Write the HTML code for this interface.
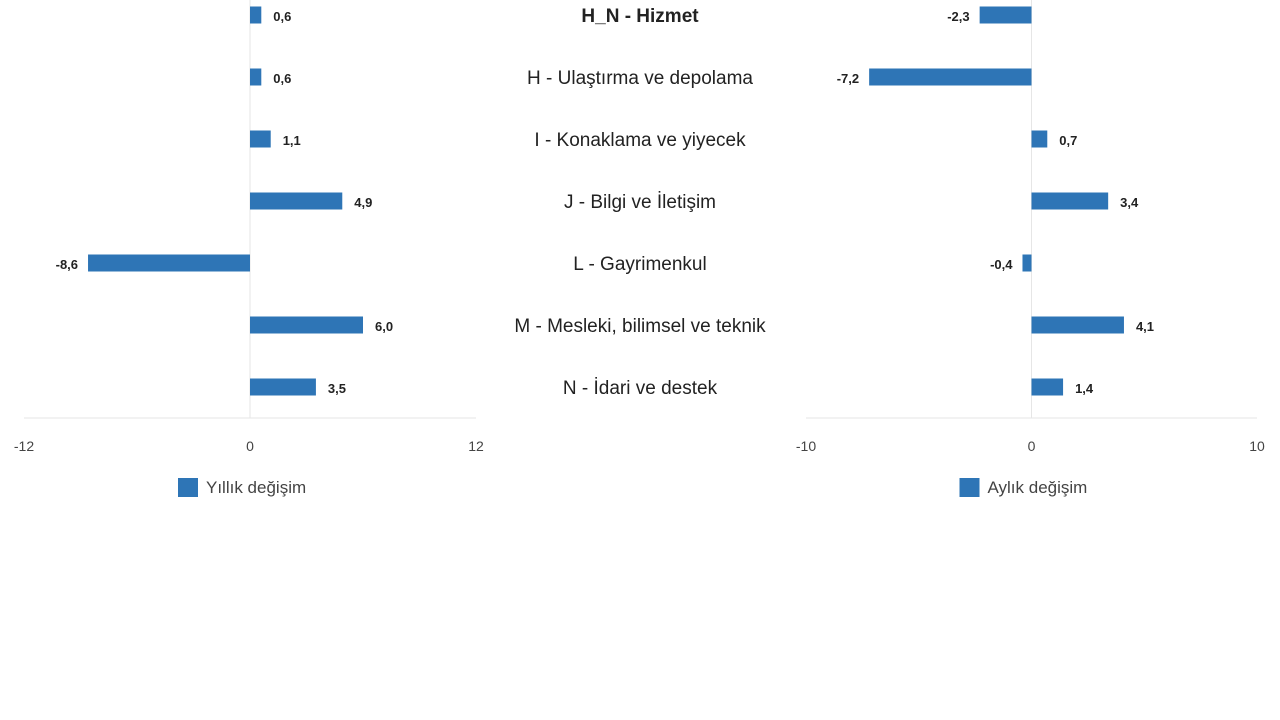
<!DOCTYPE html>
<html><head><meta charset="utf-8"><style>
html,body{margin:0;padding:0;background:#fff;}
svg{display:block;font-family:"Liberation Sans",sans-serif;}
</style></head><body>
<svg id="c" width="1280" height="720"></svg>
<script>
const categories=["H_N - Hizmet","H - Ulaştırma ve depolama","I - Konaklama ve yiyecek","J - Bilgi ve İletişim","L - Gayrimenkul","M - Mesleki, bilimsel ve teknik","N - İdari ve destek"];
const yearly=[0.6,0.6,1.1,4.9,-8.6,6.0,3.5];
const monthly=[-2.3,-7.2,0.7,3.4,-0.4,4.1,1.4];
const leftTicks=[-12,0,12];
const rightTicks=[-10,0,10];
const NS="http://www.w3.org/2000/svg";
const svg=document.getElementById('c');
function mk(t,a,p){const e=document.createElementNS(NS,t);for(const k in a)e.setAttribute(k,a[k]);(p||svg).appendChild(e);return e;}
const rowY=i=>15+i*62;
function fmt(v){return v.toFixed(1).replace('.',',');}
function panel(vals,ticks,x0,x1,name,legend){
  const min=ticks[0],max=ticks[ticks.length-1];
  const sx=v=>x0+(v-min)/(max-min)*(x1-x0);
  const g=mk('g',{});
  
  
  const zl=mk('line',{x1:sx(0),x2:sx(0),y1:0,y2:418,stroke:'#e6e6e6','stroke-width':1},g);
  
  const ax=mk('line',{x1:x0,x2:x1,y1:418,y2:418,stroke:'#e6e6e6','stroke-width':1},g);
  
  ticks.forEach(t=>{const tx=mk('text',{x:sx(t),y:451,'text-anchor':'middle','font-size':14,fill:'#444'},g);tx.textContent=t;
    });
  vals.forEach((v,i)=>{
    const a=sx(Math.min(0,v)),b=sx(Math.max(0,v));
    const r=mk('rect',{x:a,y:rowY(i)-8.5,width:b-a,height:17,fill:'#2e75b6'},g);
    
    const lx=v>=0?b+12:a-10;
    const t=mk('text',{x:lx,y:rowY(i)+6,'text-anchor':v>=0?'start':'end','font-size':13,'font-weight':'bold',fill:'#222'},g);
    t.textContent=fmt(v);
    
  });
  const lg=mk('g',{},g);
  const lcx=(x0+x1)/2-72;
  mk('rect',{x:lcx,y:478,width:20,height:19,fill:'#2e75b6'},lg);
  const lt=mk('text',{x:lcx+28,y:493,'font-size':17,fill:'#444'},lg);lt.textContent=legend;
}
panel(yearly,leftTicks,24,476,'yearly-change-panel','Yıllık değişim');
panel(monthly,rightTicks,806,1257,'monthly-change-panel','Aylık değişim');
categories.forEach((c,i)=>{
  const t=mk('text',{x:640,y:rowY(i)+7,'text-anchor':'middle','font-size':19,fill:'#222','font-weight':i===0?'bold':'normal'});
  t.textContent=c;
  
  
});
</script>
</body></html>
